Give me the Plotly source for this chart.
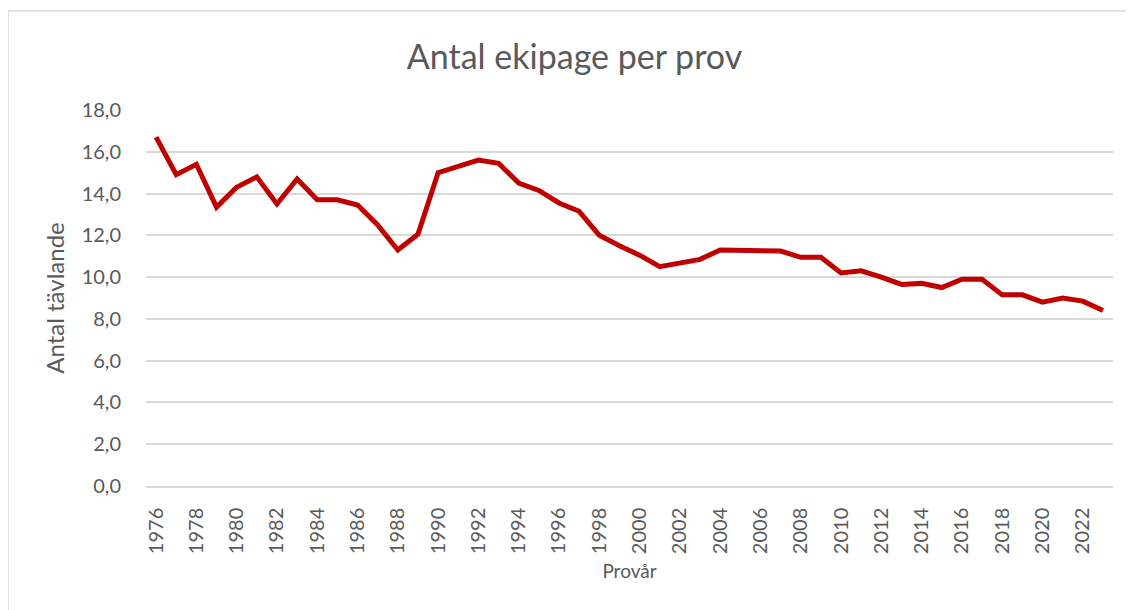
import plotly.graph_objects as go

years = list(range(1976, 2024))
values = [16.7, 14.9, 15.4, 13.35, 14.3, 14.8, 13.5, 14.7, 13.7, 13.7,
          13.45, 12.5, 11.3, 12.05, 15.0, 15.3, 15.6, 15.45, 14.5, 14.15,
          13.55, 13.15, 12.0, 11.5, 11.05, 10.5, 10.7, 10.85, 11.3, 11.3,
          11.3, 11.25, 10.95, 10.95, 10.2, 10.3, 10.0, 9.65, 9.7, 9.5,
          9.9, 9.9, 9.15, 9.15, 8.8, 9.0, 8.85, 8.4]

title_text = "Antal ekipage per prov"
x_title = "Provår"
y_title = "Antal tävlande"

FONT = "Lato"
GRAY = "#595959"
W, H = 1126, 602

fig = go.Figure()
fig.add_trace(go.Scatter(x=years, y=values, mode="lines",
                         line=dict(color="#c00000", width=5),
                         hoverinfo="x+y"))

fig.update_layout(
    width=W, height=H,
    margin=dict(l=138, r=21, t=102, b=124),
    paper_bgcolor="white", plot_bgcolor="white",
    separators=",.",
    showlegend=False,
    font=dict(family=FONT, color=GRAY),
    title=dict(text=title_text, x=566.5 / W, xref="container", xanchor="center",
               y=1 - 49 / H, yref="container", yanchor="middle",
               font=dict(family=FONT, size=34, color=GRAY)),
    shapes=[dict(type="rect", xref="paper", yref="paper",
                 x0=(0 - 138) / 967, x1=(1160 - 138) / 967,
                 y0=-(640 - 478) / 376, y1=(478 - 3) / 376,
                 line=dict(color="#d9d9d9", width=1.5), layer="below")],
)

fig.update_xaxes(range=[1975.5, 2023.5], tickmode="linear", tick0=1976, dtick=2,
                 tickangle=-90, showgrid=False, zeroline=False,
                 showline=True, linecolor="#d9d9d9", linewidth=1.5,
                 ticks="outside", ticklen=12, tickcolor="rgba(0,0,0,0)",
                 tickfont=dict(family=FONT, size=20, color=GRAY),
                 title=dict(text=x_title, standoff=12,
                            font=dict(family=FONT, size=19, color=GRAY)))
fig.update_yaxes(range=[0, 18], tickmode="linear", tick0=0, dtick=2,
                 tickformat=".1f", showgrid=True, gridcolor="#d9d9d9", gridwidth=1.5,
                 zeroline=False, showline=False,
                 ticks="outside", ticklen=20, tickcolor="rgba(0,0,0,0)",
                 tickfont=dict(family=FONT, size=20, color=GRAY),
                 title=dict(text=y_title, standoff=10,
                            font=dict(family=FONT, size=24, color=GRAY)))

fig.write_html("out.html")
